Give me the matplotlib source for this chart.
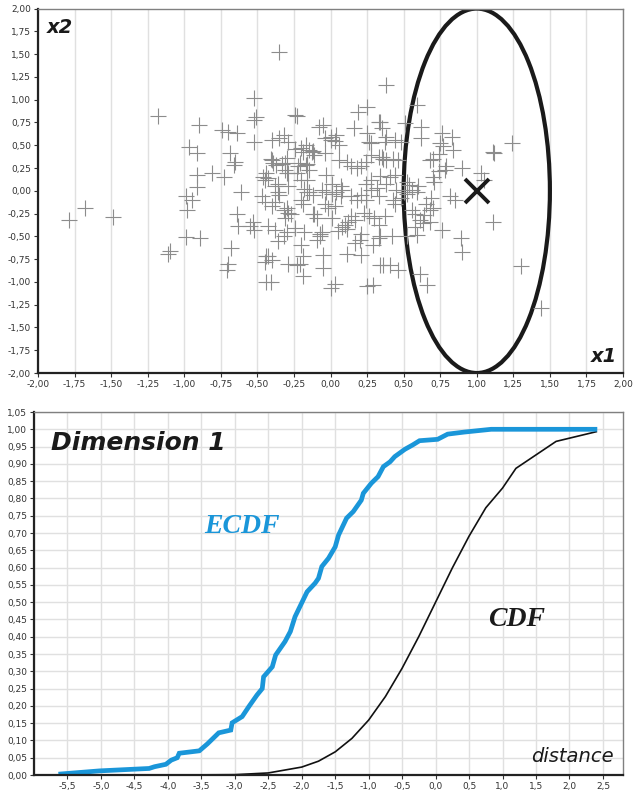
import matplotlib.pyplot as plt
import numpy as np
from matplotlib.patches import Ellipse
from matplotlib.ticker import FuncFormatter

# --- top panel: sample points (x1, x2) ---
x1 = [-1.18, -0.35, -0.52, -0.51, -0.52, -0.23, -0.90, -0.74, -0.70, -0.64, -0.52,
      -0.97, -0.91, -0.69, -0.65, -0.66, -0.91, -0.81, -0.73, -0.91, -0.46, -0.45, -0.44,
      -1.79, -1.68, -1.49, -1.11, -1.10, -0.99, -0.89, -0.99, -0.95, -0.98, -0.61, -0.64,
      -0.63, -0.53, -0.52, -0.55, -0.47, -0.45, -0.68, -0.70, -0.71, -0.45, -0.44, -0.44,
      -0.24, 0.25, 0.19, 0.33, 0.16, -0.08, -0.05, 0.25, 0.26, 0.28,
      -0.04, 0.00, 0.04, 0.03, 0.00, 0.06, -0.40, -0.32, -0.29, -0.35,
      -0.24, -0.20, -0.19, -0.15, -0.17, -0.12, -0.04,
      -0.40, -0.37, -0.31, -0.29, -0.22, -0.17, -0.15,
      0.06, 0.11, 0.14, 0.18, 0.21, 0.24, 0.28, 0.33, 0.36,
      -0.03, 0.01, 0.07, 0.24, 0.28, 0.34, -0.43, -0.36, -0.20, -0.29,
      -0.31, -0.30, -0.21, -0.16, -0.13, -0.11, -0.41, -0.39, -0.33, -0.23, -0.16,
      -0.30, -0.18, -0.16, -0.38,
      -0.38, -0.36, -0.35, -0.15, -0.12, -0.06, -0.03, 0.01, 0.04, 0.08, 0.07,
      -0.20, -0.19, -0.04, -0.02, 0.03, 0.14, 0.18, 0.21, 0.24, 0.28, 0.32, 0.33,
      -0.40, -0.32, -0.30, -0.27, -0.31, -0.29, -0.12, -0.09, -0.11, 0.01,
      0.12, 0.14, 0.17, 0.10, 0.23, 0.26, 0.30, 0.33,
      -0.43, -0.38, -0.30, -0.24, -0.07, -0.09, 0.20, 0.17, 0.33, 0.29,
      -0.43, -0.40, -0.29, -0.23, -0.21, -0.19, -0.05, -0.05, 0.11, 0.21, 0.34,
      -0.41, -0.19, 0.00, 0.03, 0.25, 0.29, -0.36, -0.32, -0.18, -0.20,
      0.38, 0.59, 0.34, 0.35, 0.51, 0.48, 0.62, 0.62, 0.76, 0.83, 0.75,
      0.38, 0.44, 0.37, 0.74, 0.70, 0.68, 0.35, 0.38, 0.43, 0.46,
      0.79, 0.90, 0.78, 1.11, 1.12, 1.24, 1.03, 1.05, 0.70,
      0.41, 0.44, 0.38, 0.52, 0.54, 0.60,
      0.45, 0.50, 0.56, 0.59, 0.43, 0.44, 0.48, 0.52, 0.69, 0.70, 0.68, 0.65,
      0.82, 0.85, 0.56, 0.58, 0.37, 0.61, 0.68, 0.76, 0.89, 0.90, 1.11,
      0.34, 0.42, 0.52, 0.59, 0.36, 0.41, 0.46, 0.61, 0.66, 1.30, 1.44,
      0.11, 0.21, 0.05, 0.08, -0.07, -0.06, 0.77, 0.84, 0.74, 0.71, 0.64, 0.63, 0.58]
x2 = [0.82, 1.52, 1.02, 0.81, 0.78, 0.82, 0.72, 0.67, 0.65, 0.63, 0.54,
      0.48, 0.41, 0.41, 0.32, 0.28, 0.17, 0.19, 0.15, 0.04, 0.15, 0.12, 0.19,
      -0.32, -0.19, -0.29, -0.69, -0.66, -0.51, -0.52, -0.06, -0.10, -0.21, -0.01, -0.25,
      -0.39, -0.34, -0.43, -0.39, -0.06, -0.12, -0.63, -0.80, -0.87, -0.78, -0.72, -1.00,
      0.83, 0.92, 0.87, 0.76, 0.69, 0.70, 0.72, 0.63, 0.54, 0.52,
      0.58, 0.56, 0.61, 0.55, 0.59, 0.50, 0.56, 0.61, 0.54, 0.58,
      0.46, 0.47, 0.43, 0.45, 0.50, 0.44, 0.41,
      0.34, 0.28, 0.23, 0.19, 0.27, 0.28, 0.23,
      0.34, 0.32, 0.27, 0.25, 0.27, 0.32, 0.39, 0.37, 0.35,
      0.17, 0.08, 0.05, 0.08, 0.12, 0.16, 0.14, 0.08, 0.12, 0.05,
      0.30, 0.36, 0.31, 0.29, 0.43, 0.39, 0.35, 0.30, 0.29, 0.20, 0.12,
      0.19, 0.02, -0.01, -0.12,
      0.05, -0.01, -0.05, -0.01, -0.05, 0.01, -0.01, -0.03, -0.01, 0.01, -0.06,
      -0.10, -0.15, -0.14, -0.19, -0.17, -0.06, -0.10, -0.05, -0.10, 0.01, 0.03, -0.06,
      -0.17, -0.21, -0.19, -0.26, -0.30, -0.24, -0.26, -0.30, -0.25, -0.30,
      -0.34, -0.28, -0.32, -0.37, -0.24, -0.28, -0.30, -0.37,
      -0.39, -0.43, -0.45, -0.41, -0.47, -0.54, -0.54, -0.57, -0.52, -0.59,
      -0.72, -0.76, -0.80, -0.81, -0.80, -0.72, -0.70, -0.85, -0.69, -0.70, -0.81,
      -1.00, -0.94, -1.07, -1.02, -1.05, -1.03, -0.55, -0.50, -0.45, -0.60,
      1.16, 0.94, 0.76, 0.69, 0.74, 0.54, 0.70, 0.58, 0.63, 0.59, 0.52,
      0.59, 0.56, 0.54, 0.40, 0.35, 0.34, 0.37, 0.34, 0.35, 0.34,
      0.27, 0.25, 0.23, 0.43, 0.41, 0.52, 0.19, 0.12, 0.15,
      0.15, 0.17, 0.08, 0.10, 0.06, 0.05,
      0.01, -0.01, 0.01, -0.01, -0.10, -0.14, -0.08, -0.03, -0.08, -0.19, -0.21, -0.15,
      -0.06, -0.10, -0.21, -0.26, -0.28, -0.32, -0.34, -0.43, -0.52, -0.67, -0.34,
      -0.50, -0.50, -0.50, -0.48, -0.81, -0.81, -0.87, -0.91, -1.03, -0.83, -1.29,
      -0.42, -0.47, -0.44, -0.40, -0.50, -0.45, 0.49, 0.45, 0.22, 0.10, -0.27, -0.35, -0.40]

# --- bottom panel: empirical and theoretical distribution curves ---
ecdf_x = [-5.60, -5.02, -4.28, -4.20, -4.03, -3.95, -3.86, -3.83, -3.53, -3.41, -3.24,
          -3.06, -3.04, -2.89, -2.79, -2.67, -2.59, -2.57, -2.44, -2.39, -2.25, -2.17,
          -2.10, -2.02, -1.92, -1.80, -1.75, -1.70, -1.60, -1.50, -1.45, -1.33, -1.23,
          -1.11, -1.08, -0.96, -0.86, -0.78, -0.68, -0.61, -0.46, -0.34, -0.24, 0.03,
          0.18, 0.43, 0.83, 2.38]
ecdf_y = [0.003, 0.012, 0.019, 0.024, 0.031, 0.043, 0.050, 0.063, 0.070, 0.090, 0.122,
          0.130, 0.151, 0.169, 0.198, 0.231, 0.250, 0.284, 0.313, 0.347, 0.386, 0.415,
          0.458, 0.490, 0.530, 0.555, 0.569, 0.603, 0.627, 0.660, 0.694, 0.743, 0.762,
          0.795, 0.815, 0.844, 0.863, 0.892, 0.906, 0.921, 0.942, 0.955, 0.967, 0.971,
          0.986, 0.992, 1.000, 1.000]
cdf_x = [-4.0, -3.0, -2.5, -2.0, -1.75, -1.5, -1.25, -1.0, -0.75, -0.5, -0.25, 0.0,
         0.25, 0.5, 0.75, 1.0, 1.2, 1.8, 2.4]
cdf_y = [0.0, 0.001, 0.006, 0.023, 0.040, 0.067, 0.106, 0.159, 0.227, 0.309, 0.401, 0.500,
         0.599, 0.691, 0.773, 0.830, 0.887, 0.965, 0.993]

blue = '#1a96d9'
grid_c = '#e0e0e0'

fig = plt.figure(figsize=(6.39, 7.94), dpi=100)

def style(ax):
    for s in ['left', 'bottom']:
        ax.spines[s].set_color('#222222')
        ax.spines[s].set_linewidth(1.6)
    for s in ['top', 'right']:
        ax.spines[s].set_color('#808080')
        ax.spines[s].set_linewidth(1.0)
    ax.tick_params(labelsize=6.5, labelcolor='#333333', length=3, width=0.8,
                   color='#333333', pad=2)
    ax.set_axisbelow(True)

comma2 = FuncFormatter(lambda v, p: ('%.2f' % v).replace('.', ','))
comma1 = FuncFormatter(lambda v, p: ('%.1f' % v).replace('.', ','))

# top panel
ax1 = fig.add_axes([0.0595, 0.5302, 0.9155, 0.459])
style(ax1)
ax1.set_xlim(-2, 2)
ax1.set_ylim(-2, 2)
ax1.set_xticks(np.arange(-2, 2.01, 0.25))
ax1.set_yticks(np.arange(-2, 2.01, 0.25))
ax1.xaxis.set_major_formatter(comma2)
ax1.yaxis.set_major_formatter(comma2)
ax1.grid(axis='x', color=grid_c, lw=1)
ax1.plot(x1, x2, '+', color='#8c8c8c', ms=11, mew=0.8)
ax1.add_patch(Ellipse((1.0, 0.0), 1.0, 4.0, fill=False, ec='#1a1a1a', lw=3))
ax1.plot([1.0], [0.0], 'x', color='#1a1a1a', ms=17, mew=2.8)
ax1.text(0.015, 0.975, 'x2', transform=ax1.transAxes, fontsize=14,
         fontweight='bold', style='italic', ha='left', va='top', color='#1a1a1a')
ax1.text(0.99, 0.02, 'x1', transform=ax1.transAxes, fontsize=14,
         fontweight='bold', style='italic', ha='right', va='bottom', color='#1a1a1a')

# bottom panel
ax2 = fig.add_axes([0.0532, 0.0239, 0.9218, 0.4572])
style(ax2)
ax2.set_xlim(-6.0, 2.8)
ax2.set_ylim(0, 1.05)
ax2.set_xticks(np.arange(-5.5, 2.51, 0.5))
ax2.set_xticks([-6.0], minor=True)
ax2.set_yticks(np.arange(0, 1.051, 0.05))
ax2.xaxis.set_major_formatter(comma1)
ax2.yaxis.set_major_formatter(comma2)
ax2.grid(True, color=grid_c, lw=1)
ax2.grid(True, which='minor', axis='x', color=grid_c, lw=1)
ax2.tick_params(which='minor', length=0)
ax2.plot(cdf_x, cdf_y, color='#111111', lw=1.2)
ax2.plot(ecdf_x, ecdf_y, color=blue, lw=3.4, solid_joinstyle='miter')
ax2.text(-5.75, 0.96, 'Dimension 1', fontsize=18, fontweight='bold', style='italic',
         ha='left', va='center', color='#1a1a1a')
ax2.text(-3.45, 0.72, 'ECDF', fontsize=20, fontweight='bold', style='italic',
         family='Liberation Serif', ha='left', va='center', color=blue)
ax2.text(0.78, 0.45, 'CDF', fontsize=20, fontweight='bold', style='italic',
         family='Liberation Serif', ha='left', va='center', color='#1a1a1a')
ax2.text(0.985, 0.025, 'distance', transform=ax2.transAxes, fontsize=14,
         style='italic', ha='right', va='bottom', color='#1a1a1a')

fig.savefig('out.png', dpi=100)
